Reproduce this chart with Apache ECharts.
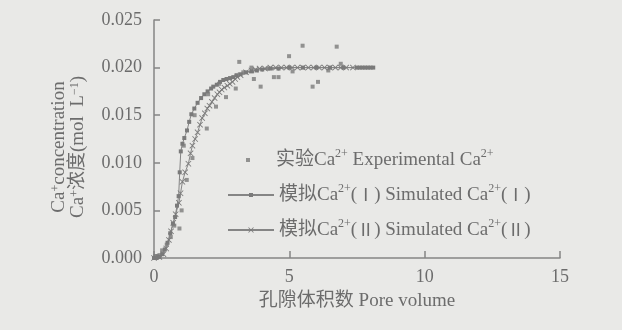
<html>
<head>
<meta charset="utf-8">
<script src="https://cdn.jsdelivr.net/npm/echarts@6/dist/echarts.min.js"></script>
</head>
<body style="margin:0;background:#e9e9e7;">
<div id="main" style="width:622px;height:330px;"></div>
<script>
  // 实验数据 [pore volume, concentration]
  var expData = [
    [0.05, 0.0002], [0.12, 0.0002], [0.2, 0.0003], [0.3, 0.0008], [0.47, 0.0014],
    [0.62, 0.0022], [0.75, 0.0034], [0.94, 0.0031], [1.02, 0.0050], [1.1, 0.0118],
    [1.21, 0.0082], [1.42, 0.0105], [1.5, 0.0150], [1.95, 0.0136], [2.0, 0.0172],
    [2.29, 0.0159], [2.4, 0.0183], [2.66, 0.0169], [3.02, 0.0178], [3.15, 0.0206],
    [3.3, 0.0195], [3.6, 0.0200], [3.69, 0.0188], [3.94, 0.0180], [4.2, 0.0199],
    [4.43, 0.0190], [4.6, 0.0190], [4.99, 0.0212], [5.12, 0.0196], [5.49, 0.0223],
    [5.86, 0.0180], [6.06, 0.0185], [6.44, 0.0197], [6.75, 0.0222], [6.9, 0.0204]
  ];
  // 模拟 I
  var simI = [
    [0.0, 0.0000], [0.1, 0.0000], [0.2, 0.0001], [0.3, 0.0004], [0.4, 0.0009],
    [0.5, 0.0016], [0.6, 0.0026], [0.7, 0.0036], [0.78, 0.0043], [0.85, 0.0055],
    [0.91, 0.0065], [0.95, 0.0090], [0.99, 0.0112], [1.05, 0.0120], [1.12, 0.0126],
    [1.22, 0.0134], [1.30, 0.0143], [1.38, 0.0151], [1.49, 0.0157], [1.61, 0.0163],
    [1.74, 0.0168], [1.86, 0.0172], [1.98, 0.0175], [2.11, 0.0178], [2.19, 0.0180],
    [2.32, 0.0182], [2.44, 0.0185], [2.56, 0.0187], [2.68, 0.0188], [2.81, 0.0189],
    [2.93, 0.0190], [3.05, 0.0192], [3.2, 0.0193], [3.4, 0.0195], [3.6, 0.0196],
    [3.8, 0.0197], [4.0, 0.0198], [4.3, 0.0199], [4.6, 0.0199], [5.0, 0.0200],
    [5.5, 0.0200], [6.0, 0.0200], [6.5, 0.0200], [7.0, 0.0200], [7.5, 0.0200],
    [7.6, 0.0200], [7.7, 0.0200], [7.8, 0.0200], [7.9, 0.0200], [8.0, 0.0200], [8.1, 0.0200]
  ];
  // 模拟 II
  var simII = [
    [0.0, 0.0000], [0.2, 0.0001], [0.35, 0.0004], [0.45, 0.0010], [0.55, 0.0019],
    [0.63, 0.0028], [0.71, 0.0037], [0.8, 0.0046], [0.92, 0.0058], [0.98, 0.0068],
    [1.05, 0.0080], [1.15, 0.0090], [1.27, 0.0099], [1.35, 0.0110], [1.42, 0.0118],
    [1.52, 0.0125], [1.61, 0.0132], [1.70, 0.0140], [1.78, 0.0147], [1.88, 0.0152],
    [1.97, 0.0157], [2.05, 0.0160], [2.14, 0.0164], [2.24, 0.0168], [2.34, 0.0172],
    [2.42, 0.0174], [2.5, 0.0177], [2.6, 0.0179], [2.71, 0.0181], [2.8, 0.0183],
    [2.9, 0.0185], [3.0, 0.0188], [3.08, 0.0190], [3.2, 0.0192], [3.4, 0.0195],
    [3.6, 0.0197], [3.75, 0.0198], [3.9, 0.0199], [4.1, 0.0199], [4.3, 0.0200],
    [4.5, 0.0200], [4.7, 0.0200], [4.9, 0.0200], [5.1, 0.0200], [5.3, 0.0200],
    [5.5, 0.0200], [5.7, 0.0200], [5.9, 0.0200], [6.1, 0.0200], [6.3, 0.0200],
    [6.5, 0.0200], [6.7, 0.0200], [6.9, 0.0200], [7.1, 0.0200], [7.35, 0.0200]
  ];
  var xTicks = [0, 5, 10, 15];
  var yTicks = [0, 0.005, 0.010, 0.015, 0.020, 0.025];

  var legendText = {
    exp: '{n|实验Ca}{s|2+}{n| Experimental Ca}{s|2+}',
    sim1: '{n|模拟Ca}{s|2+}{n|(}{r|Ⅰ}{n|) Simulated Ca}{s|2+}{n|(}{r|Ⅰ}{n|)}',
    sim2: '{n|模拟Ca}{s|2+}{n|(}{r|Ⅱ}{n|) Simulated Ca}{s|2+}{n|(}{r|Ⅱ}{n|)}'
  };

  var font = "'Liberation Serif', 'Noto Sans CJK SC', serif";
  var cjk = "'Noto Sans CJK SC', serif";
  var grey = '#6c6c6c';
  var lineGrey = '#858585';
  var richText = {
    n: { fontSize: 19, fontFamily: font, color: grey, lineHeight: 24 },
    r: { fontSize: 17, fontFamily: cjk, color: grey, lineHeight: 24 },
    s: { fontSize: 12, fontFamily: font, color: grey, verticalAlign: 'top', lineHeight: 24, padding: [0, 0, 10, 0] }
  };
  // y轴标题用较小行距
  var richName = {
    n: { fontSize: 19, fontFamily: font, color: grey, lineHeight: 19 },
    s: { fontSize: 12, fontFamily: font, color: grey, verticalAlign: 'top', lineHeight: 19, padding: [0, 0, 8, 0] }
  };
  var xMark = 'path://M0,1L1,0L5,4L9,0L10,1L6,5L10,9L9,10L5,6L1,10L0,9L4,5Z';

  function makeLegend(name, top, w, h) {
    return {
      data: [name], orient: 'vertical', left: 222, top: top,
      itemWidth: w, itemHeight: h, itemGap: 0,
      formatter: function (nm) { return legendText[nm]; },
      textStyle: { rich: richText, color: grey, padding: [0, 0, 0, 0] }
    };
  }

  var chart = echarts.init(document.getElementById('main'));
  chart.setOption({
    backgroundColor: '#e9e9e7',
    animation: false,
    grid: { left: 154, right: 62, top: 20, bottom: 72 },
    legend: [
      { data: ['exp'], orient: 'vertical', left: 241, top: 143, itemWidth: 4, itemHeight: 4,
        formatter: function (nm) { return legendText[nm]; },
        textStyle: { rich: richText, color: grey, padding: [0, 0, 0, 21] } },
      makeLegend('sim1', 178, 46, 5),
      makeLegend('sim2', 213, 46, 7)
    ],
    xAxis: {
      type: 'value', min: 0, max: 15, interval: 5,
      name: '孔隙体积数 Pore volume', nameLocation: 'middle', nameGap: 34,
      nameTextStyle: { fontSize: 19, fontFamily: font, color: grey },
      axisLine: { lineStyle: { color: lineGrey, width: 1.5 } },
      axisTick: { inside: true, length: 7, lineStyle: { color: lineGrey, width: 1.5 } },
      axisLabel: { fontSize: 18, fontFamily: font, color: grey, margin: 10 },
      splitLine: { show: false }
    },
    yAxis: {
      type: 'value', min: 0, max: 0.025, interval: 0.005,
      name: '{n|Ca}{s|+}{n|concentration}\n{n|Ca}{s|+}{n|浓度(mol  L}{s|−1}{n|)}',
      nameLocation: 'middle', nameRotate: 90, nameGap: 66,
      nameTextStyle: { rich: richName, align: 'center', padding: [0, 16, 0, 0] },
      axisLine: { lineStyle: { color: lineGrey, width: 1.5 } },
      axisTick: { inside: true, length: 6, lineStyle: { color: lineGrey, width: 1.5 } },
      axisLabel: { fontSize: 18, fontFamily: font, color: grey, margin: 12,
        formatter: function (v) { return v.toFixed(3); } },
      splitLine: { show: false }
    },
    series: [
      { name: 'exp', type: 'scatter', data: expData, symbol: 'rect', symbolSize: 4,
        itemStyle: { color: '#7a7a7a' } },
      { name: 'sim1', type: 'line', data: simI, symbol: 'rect', symbolSize: 4, showAllSymbol: true,
        lineStyle: { color: lineGrey, width: 1 }, itemStyle: { color: '#7a7a7a' } },
      { name: 'sim2', type: 'line', data: simII, symbol: xMark, symbolSize: 6, showAllSymbol: true,
        lineStyle: { color: lineGrey, width: 1 }, itemStyle: { color: '#7a7a7a' } }
    ]
  });
</script>
</body>
</html>
